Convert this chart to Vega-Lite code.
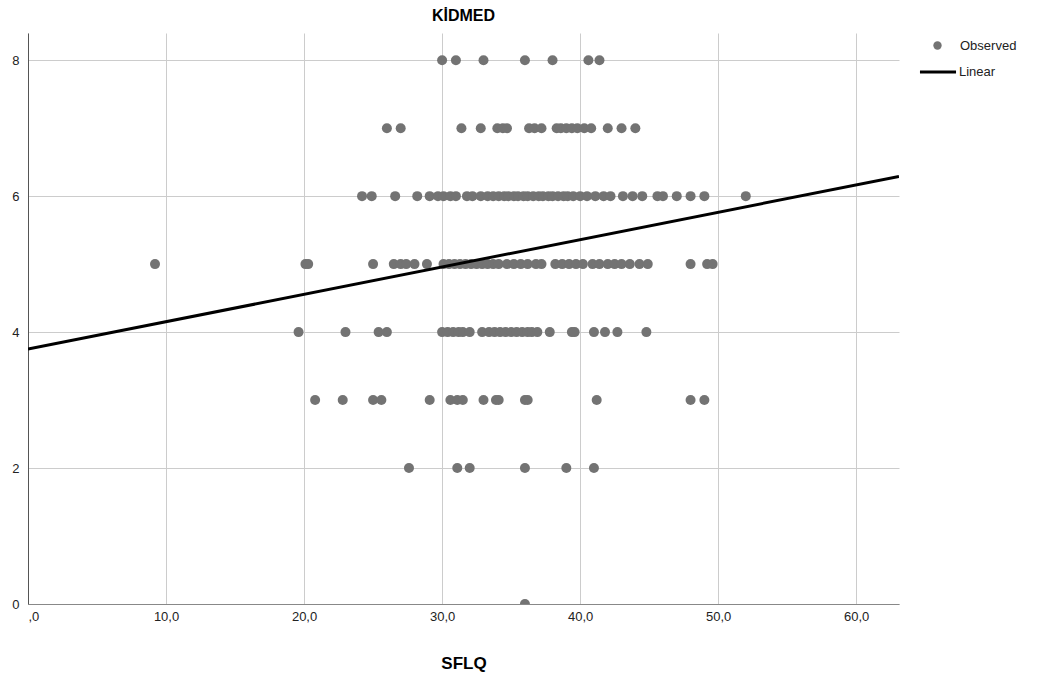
{
  "$schema": "https://vega.github.io/schema/vega-lite/v6.json",
  "autosize": {"type": "none"},
  "width": 871,
  "height": 571,
  "padding": {"left": 28, "top": 33, "right": 145, "bottom": 75},
  "background": "white",
  "title": {"text": "KİDMED", "font": "Liberation Sans", "fontSize": 16, "fontWeight": "bold", "color": "#000", "anchor": "middle", "offset": 9},
  "config": {
    "view": {"stroke": null},
    "axis": {"labelFont": "Liberation Sans", "labelFontSize": 13, "labelColor": "#222", "titleFont": "Liberation Sans", "gridColor": "#cccccc", "gridWidth": 1, "domainColor": "#666666", "ticks": false},
    "legend": {"labelFont": "Liberation Sans", "labelFontSize": 13, "labelColor": "#222"}
  },
  "resolve": {"scale": {"color": "independent"}, "legend": {"color": "independent"}},
  "datasets": {
    "obs": [
      {"SFLQ": 30.0, "KIDMED": 8}, {"SFLQ": 31.0, "KIDMED": 8}, {"SFLQ": 33.0, "KIDMED": 8}, {"SFLQ": 36.0, "KIDMED": 8}, {"SFLQ": 38.0, "KIDMED": 8}, {"SFLQ": 40.6, "KIDMED": 8}, {"SFLQ": 41.4, "KIDMED": 8},
      {"SFLQ": 26.0, "KIDMED": 7}, {"SFLQ": 27.0, "KIDMED": 7}, {"SFLQ": 31.4, "KIDMED": 7}, {"SFLQ": 32.8, "KIDMED": 7}, {"SFLQ": 34.0, "KIDMED": 7}, {"SFLQ": 34.4, "KIDMED": 7}, {"SFLQ": 34.7, "KIDMED": 7}, {"SFLQ": 36.3, "KIDMED": 7}, {"SFLQ": 36.7, "KIDMED": 7}, {"SFLQ": 37.2, "KIDMED": 7}, {"SFLQ": 38.3, "KIDMED": 7}, {"SFLQ": 38.6, "KIDMED": 7}, {"SFLQ": 39.0, "KIDMED": 7}, {"SFLQ": 39.4, "KIDMED": 7}, {"SFLQ": 39.8, "KIDMED": 7}, {"SFLQ": 40.3, "KIDMED": 7}, {"SFLQ": 40.8, "KIDMED": 7}, {"SFLQ": 42.0, "KIDMED": 7}, {"SFLQ": 43.0, "KIDMED": 7}, {"SFLQ": 44.0, "KIDMED": 7},
      {"SFLQ": 24.2, "KIDMED": 6}, {"SFLQ": 24.9, "KIDMED": 6}, {"SFLQ": 26.6, "KIDMED": 6}, {"SFLQ": 28.2, "KIDMED": 6}, {"SFLQ": 29.1, "KIDMED": 6}, {"SFLQ": 29.7, "KIDMED": 6}, {"SFLQ": 30.1, "KIDMED": 6}, {"SFLQ": 30.6, "KIDMED": 6}, {"SFLQ": 31.0, "KIDMED": 6}, {"SFLQ": 31.8, "KIDMED": 6}, {"SFLQ": 32.2, "KIDMED": 6}, {"SFLQ": 32.8, "KIDMED": 6}, {"SFLQ": 33.3, "KIDMED": 6}, {"SFLQ": 33.7, "KIDMED": 6}, {"SFLQ": 34.1, "KIDMED": 6}, {"SFLQ": 34.5, "KIDMED": 6}, {"SFLQ": 34.8, "KIDMED": 6}, {"SFLQ": 35.2, "KIDMED": 6}, {"SFLQ": 35.5, "KIDMED": 6}, {"SFLQ": 35.9, "KIDMED": 6}, {"SFLQ": 36.2, "KIDMED": 6}, {"SFLQ": 36.6, "KIDMED": 6}, {"SFLQ": 37.0, "KIDMED": 6}, {"SFLQ": 37.3, "KIDMED": 6}, {"SFLQ": 37.7, "KIDMED": 6}, {"SFLQ": 38.0, "KIDMED": 6}, {"SFLQ": 38.4, "KIDMED": 6}, {"SFLQ": 38.8, "KIDMED": 6}, {"SFLQ": 39.1, "KIDMED": 6}, {"SFLQ": 39.5, "KIDMED": 6}, {"SFLQ": 40.0, "KIDMED": 6}, {"SFLQ": 40.5, "KIDMED": 6}, {"SFLQ": 41.1, "KIDMED": 6}, {"SFLQ": 41.7, "KIDMED": 6}, {"SFLQ": 42.2, "KIDMED": 6}, {"SFLQ": 43.1, "KIDMED": 6}, {"SFLQ": 43.8, "KIDMED": 6}, {"SFLQ": 44.5, "KIDMED": 6}, {"SFLQ": 45.6, "KIDMED": 6}, {"SFLQ": 46.0, "KIDMED": 6}, {"SFLQ": 47.0, "KIDMED": 6}, {"SFLQ": 48.0, "KIDMED": 6}, {"SFLQ": 49.0, "KIDMED": 6}, {"SFLQ": 52.0, "KIDMED": 6},
      {"SFLQ": 9.2, "KIDMED": 5}, {"SFLQ": 20.1, "KIDMED": 5}, {"SFLQ": 20.3, "KIDMED": 5}, {"SFLQ": 25.0, "KIDMED": 5}, {"SFLQ": 26.5, "KIDMED": 5}, {"SFLQ": 27.0, "KIDMED": 5}, {"SFLQ": 27.4, "KIDMED": 5}, {"SFLQ": 28.0, "KIDMED": 5}, {"SFLQ": 28.9, "KIDMED": 5}, {"SFLQ": 30.1, "KIDMED": 5}, {"SFLQ": 30.5, "KIDMED": 5}, {"SFLQ": 30.9, "KIDMED": 5}, {"SFLQ": 31.3, "KIDMED": 5}, {"SFLQ": 31.7, "KIDMED": 5}, {"SFLQ": 32.1, "KIDMED": 5}, {"SFLQ": 32.5, "KIDMED": 5}, {"SFLQ": 32.9, "KIDMED": 5}, {"SFLQ": 33.3, "KIDMED": 5}, {"SFLQ": 33.7, "KIDMED": 5}, {"SFLQ": 34.1, "KIDMED": 5}, {"SFLQ": 34.7, "KIDMED": 5}, {"SFLQ": 35.2, "KIDMED": 5}, {"SFLQ": 35.7, "KIDMED": 5}, {"SFLQ": 36.2, "KIDMED": 5}, {"SFLQ": 36.8, "KIDMED": 5}, {"SFLQ": 37.2, "KIDMED": 5}, {"SFLQ": 38.2, "KIDMED": 5}, {"SFLQ": 38.7, "KIDMED": 5}, {"SFLQ": 39.2, "KIDMED": 5}, {"SFLQ": 39.7, "KIDMED": 5}, {"SFLQ": 40.2, "KIDMED": 5}, {"SFLQ": 40.9, "KIDMED": 5}, {"SFLQ": 41.4, "KIDMED": 5}, {"SFLQ": 42.0, "KIDMED": 5}, {"SFLQ": 42.5, "KIDMED": 5}, {"SFLQ": 43.0, "KIDMED": 5}, {"SFLQ": 43.6, "KIDMED": 5}, {"SFLQ": 44.3, "KIDMED": 5}, {"SFLQ": 44.9, "KIDMED": 5}, {"SFLQ": 48.0, "KIDMED": 5}, {"SFLQ": 49.2, "KIDMED": 5}, {"SFLQ": 49.6, "KIDMED": 5},
      {"SFLQ": 19.6, "KIDMED": 4}, {"SFLQ": 23.0, "KIDMED": 4}, {"SFLQ": 25.4, "KIDMED": 4}, {"SFLQ": 26.0, "KIDMED": 4}, {"SFLQ": 30.0, "KIDMED": 4}, {"SFLQ": 30.4, "KIDMED": 4}, {"SFLQ": 30.8, "KIDMED": 4}, {"SFLQ": 31.2, "KIDMED": 4}, {"SFLQ": 31.5, "KIDMED": 4}, {"SFLQ": 32.0, "KIDMED": 4}, {"SFLQ": 32.9, "KIDMED": 4}, {"SFLQ": 33.4, "KIDMED": 4}, {"SFLQ": 33.8, "KIDMED": 4}, {"SFLQ": 34.2, "KIDMED": 4}, {"SFLQ": 34.6, "KIDMED": 4}, {"SFLQ": 35.0, "KIDMED": 4}, {"SFLQ": 35.4, "KIDMED": 4}, {"SFLQ": 35.8, "KIDMED": 4}, {"SFLQ": 36.2, "KIDMED": 4}, {"SFLQ": 36.5, "KIDMED": 4}, {"SFLQ": 36.9, "KIDMED": 4}, {"SFLQ": 37.8, "KIDMED": 4}, {"SFLQ": 39.4, "KIDMED": 4}, {"SFLQ": 39.6, "KIDMED": 4}, {"SFLQ": 41.0, "KIDMED": 4}, {"SFLQ": 41.8, "KIDMED": 4}, {"SFLQ": 42.7, "KIDMED": 4}, {"SFLQ": 44.8, "KIDMED": 4},
      {"SFLQ": 20.8, "KIDMED": 3}, {"SFLQ": 22.8, "KIDMED": 3}, {"SFLQ": 25.0, "KIDMED": 3}, {"SFLQ": 25.6, "KIDMED": 3}, {"SFLQ": 29.1, "KIDMED": 3}, {"SFLQ": 30.6, "KIDMED": 3}, {"SFLQ": 31.1, "KIDMED": 3}, {"SFLQ": 31.5, "KIDMED": 3}, {"SFLQ": 33.0, "KIDMED": 3}, {"SFLQ": 33.9, "KIDMED": 3}, {"SFLQ": 34.1, "KIDMED": 3}, {"SFLQ": 36.0, "KIDMED": 3}, {"SFLQ": 36.2, "KIDMED": 3}, {"SFLQ": 41.2, "KIDMED": 3}, {"SFLQ": 48.0, "KIDMED": 3}, {"SFLQ": 49.0, "KIDMED": 3},
      {"SFLQ": 27.6, "KIDMED": 2}, {"SFLQ": 31.1, "KIDMED": 2}, {"SFLQ": 32.0, "KIDMED": 2}, {"SFLQ": 36.0, "KIDMED": 2}, {"SFLQ": 39.0, "KIDMED": 2}, {"SFLQ": 41.0, "KIDMED": 2},
      {"SFLQ": 36.0, "KIDMED": 0}
    ],
    "fit": [
      {"SFLQ": 0, "KIDMED": 3.75},
      {"SFLQ": 63.1, "KIDMED": 6.29}
    ]
  },
  "layer": [
    {
      "data": {"name": "obs"},
      "mark": {"type": "point", "filled": true, "opacity": 1, "size": 100, "shape": "circle", "clip": true},
      "encoding": {
        "x": {"field": "SFLQ", "type": "quantitative",
              "scale": {"domain": [0, 63.1], "nice": false, "zero": false},
              "axis": {"values": [0, 10, 20, 30, 40, 50, 60], "labelExpr": "datum.value == 0 ? ',0' : replace(format(datum.value, '.1f'), '.', ',')", "title": "SFLQ", "titleFontSize": 17, "titleFontWeight": "bold", "titlePadding": 32, "labelPadding": 6, "grid": true, "domainColor": "#888888"}},
        "y": {"field": "KIDMED", "type": "quantitative",
              "scale": {"domain": [0, 8.4], "nice": false},
              "axis": {"values": [0, 2, 4, 6, 8], "format": "d", "title": null, "labelPadding": 9, "grid": true, "domainColor": "#555555"}},
        "color": {"datum": "Observed", "type": "nominal",
                  "scale": {"domain": ["Observed"], "range": ["#737373"]},
                  "legend": {"title": null, "orient": "none", "legendX": 903, "legendY": 6, "symbolSize": 70, "symbolType": "circle", "symbolOpacity": 1, "labelOffset": 16}}
      }
    },
    {
      "data": {"name": "fit"},
      "mark": {"type": "line", "strokeWidth": 3, "clip": true},
      "encoding": {
        "x": {"field": "SFLQ", "type": "quantitative"},
        "y": {"field": "KIDMED", "type": "quantitative"},
        "color": {"datum": "Linear", "type": "nominal",
                  "scale": {"domain": ["Linear"], "range": ["#000000"]},
                  "legend": {"title": null, "orient": "none", "legendX": 890, "legendY": 19, "symbolType": "stroke", "symbolSize": 1300, "symbolStrokeWidth": 3, "labelOffset": 1}}
      }
    }
  ]
}
